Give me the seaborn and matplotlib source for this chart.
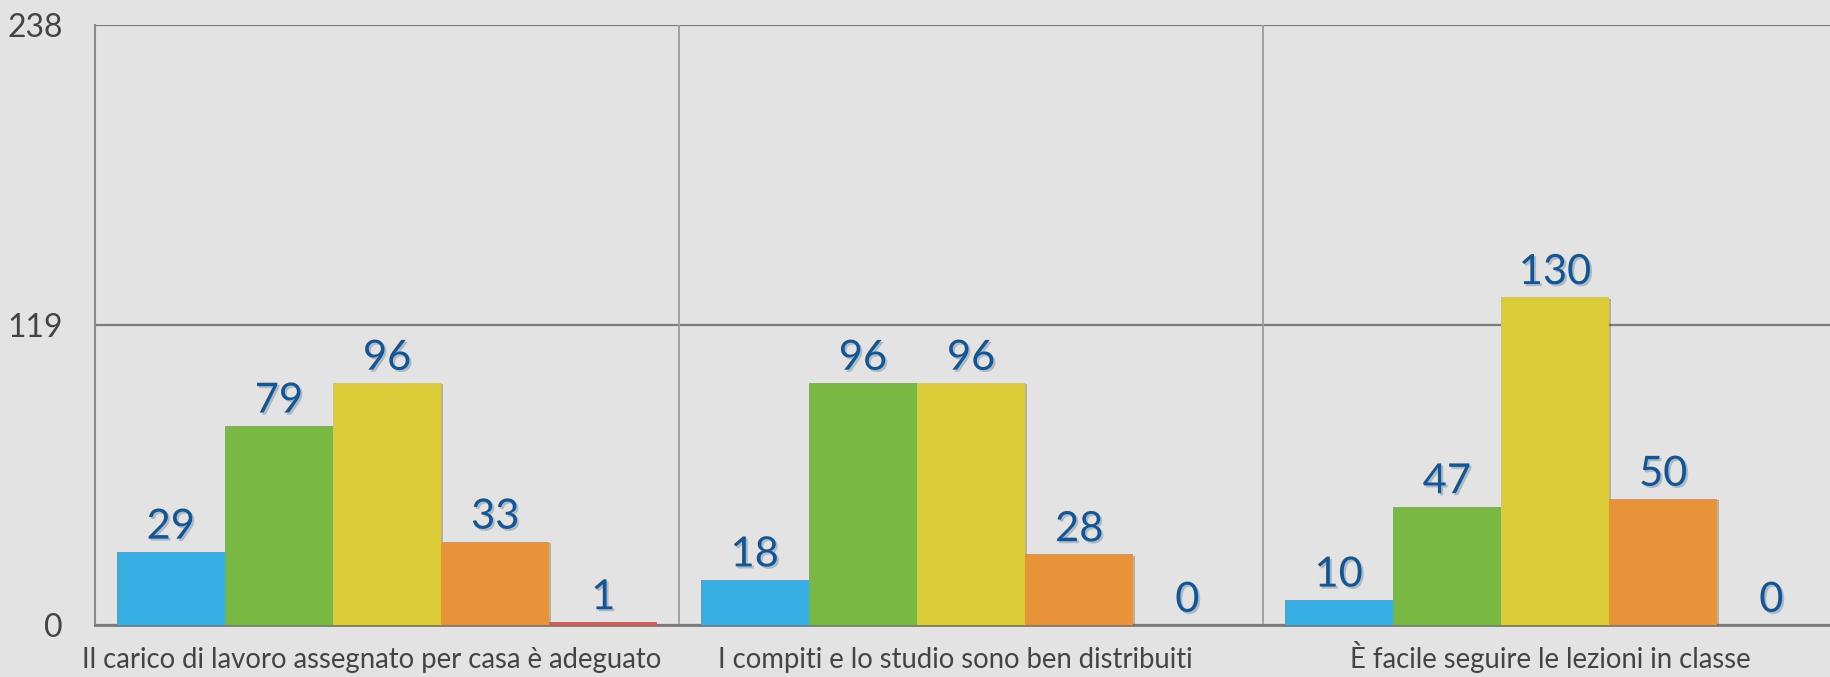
import matplotlib
matplotlib.use("Agg")
import matplotlib.pyplot as plt
import matplotlib.patheffects as pe
import matplotlib.transforms as mtransforms
import seaborn as sns
import pandas as pd

# ---- data ----
categories = [
    "Il carico di lavoro assegnato per casa è adeguato",
    "I compiti e lo studio sono ben distribuiti",
    "È facile seguire le lezioni in classe",
]
levels = ["Livello 1", "Livello 2", "Livello 3", "Livello 4", "Livello 5"]
values_c1 = [29, 79, 96, 33, 1]
values_c2 = [18, 96, 96, 28, 0]
values_c3 = [10, 47, 130, 50, 0]
y_ticks = [0, 119, 238]
colors = ["#36ADE3", "#78B843", "#DBCB36", "#E8933A", "#E25A4C"]

rows = []
for cat, vals in zip(categories, [values_c1, values_c2, values_c3]):
    for lev, v in zip(levels, vals):
        rows.append({"categoria": cat, "livello": lev, "valore": v})
df = pd.DataFrame(rows)

sns.set_theme(style="white")
plt.rcParams["font.family"] = ["Lato", "DejaVu Sans"]

bg = "#E3E3E3"
fig = plt.figure(figsize=(18.30, 6.77), dpi=100, facecolor=bg)
W, H = 1830, 677
left, right, top, bottom = 95, 1847, 25, 625
ax = fig.add_axes([left / W, 1 - bottom / H, (right - left) / W, (bottom - top) / H])
ax.set_facecolor(bg)

sns.barplot(data=df, x="categoria", y="valore", hue="livello", palette=colors,
            width=0.926, gap=0, legend=False, ax=ax, saturation=1,
            linewidth=0, zorder=3)

shadow = [pe.SimplePatchShadow(offset=(1.5, -1.0), shadow_rgbFace="#555555", alpha=0.35), pe.Normal()]
for patch in ax.patches:
    patch.set_path_effects(shadow)

for cont in ax.containers:
    texts = ax.bar_label(cont, padding=4.5, fontsize=30, color="#0F5799",
                         fontfamily=["Lato", "DejaVu Sans"])
    for t in texts:
        t.set_path_effects([pe.withSimplePatchShadow(offset=(1.5, -1.5), shadow_rgbFace="#777777", alpha=0.4)])

ax.set_ylim(0, 238)
ax.set_xlim(-0.5, 2.5)
ax.set_yticks(y_ticks)
ax.set_yticklabels([str(v) for v in y_ticks])
ax.set_xlabel("")
ax.set_ylabel("")

ax.yaxis.grid(True, color="#7C7C7C", linewidth=1.6, zorder=1)
ax.set_axisbelow(True)
for xv in [0.5, 1.5]:
    ax.axvline(xv, color="#9C9C9C", linewidth=1.3, zorder=1)

for s in ["top", "right"]:
    ax.spines[s].set_visible(False)
ax.spines["left"].set_color("#8C8C8C")
ax.spines["left"].set_linewidth(1.5)
ax.spines["bottom"].set_color("#7A7A7A")
ax.spines["bottom"].set_linewidth(2)

ax.tick_params(axis="y", length=0, pad=23, labelsize=23, labelcolor="#444444")
ax.tick_params(axis="x", length=0, pad=31, labelsize=19.8, labelcolor="#444444")

offsets_px = [-15, -16, -5]
for lab, dx in zip(ax.get_xticklabels(), offsets_px):
    lab.set_verticalalignment("baseline")
    lab.set_transform(lab.get_transform() + mtransforms.ScaledTranslation(dx / 100, 0, fig.dpi_scale_trans))

fig.savefig("out.png", dpi=100, facecolor=bg)
